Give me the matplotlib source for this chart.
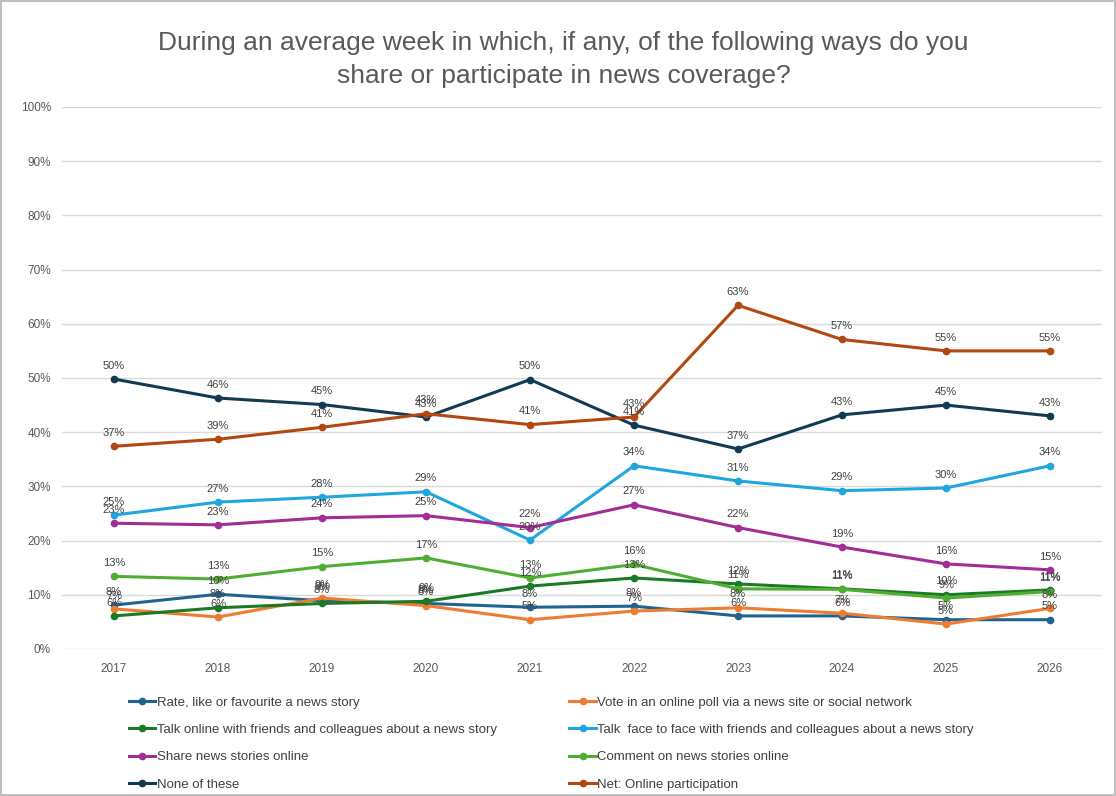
import matplotlib.pyplot as plt
from matplotlib.ticker import FuncFormatter, MultipleLocator

years = [2017, 2018, 2019, 2020, 2021, 2022, 2023, 2024, 2025, 2026]

rate_like = [8.1, 10.1, 8.9, 8.4, 7.7, 7.9, 6.1, 6.1, 5.4, 5.4]
vote_poll = [7.4, 5.9, 9.4, 8.0, 5.4, 7.0, 7.6, 6.6, 4.6, 7.5]
talk_online = [6.1, 7.6, 8.4, 8.8, 11.6, 13.1, 12.0, 11.1, 10.0, 10.9]
talk_face = [24.7, 27.1, 28.0, 29.0, 20.1, 33.8, 31.0, 29.2, 29.7, 33.8]
share_online = [23.2, 22.9, 24.2, 24.6, 22.4, 26.6, 22.4, 18.8, 15.7, 14.6]
comment_online = [13.4, 12.9, 15.2, 16.8, 13.1, 15.6, 11.1, 11.0, 9.4, 10.6]
none_of_these = [49.8, 46.3, 45.1, 42.8, 49.7, 41.3, 36.9, 43.2, 45.0, 43.0]
net_online = [37.4, 38.7, 40.9, 43.4, 41.4, 42.8, 63.4, 57.1, 55.0, 55.0]

series = [
    ("Rate, like or favourite a news story", rate_like, "#1f6491"),
    ("Vote in an online poll via a news site or social network", vote_poll, "#ee7d31"),
    ("Talk online with friends and colleagues about a news story", talk_online, "#1b7a25"),
    ("Talk  face to face with friends and colleagues about a news story", talk_face, "#1fa6df"),
    ("Share news stories online", share_online, "#a12d96"),
    ("Comment on news stories online", comment_online, "#4fae31"),
    ("None of these", none_of_these, "#103b52"),
    ("Net: Online participation", net_online, "#b2480f"),
]

plt.rcParams['font.family'] = ['Liberation Sans', 'DejaVu Sans']

fig = plt.figure(figsize=(11.16, 7.96), dpi=100)
fig.patch.set_edgecolor("#bfbfbf")
fig.patch.set_linewidth(1.5)
ax = fig.add_axes([0.0556, 0.1847, 0.9319, 0.6809])

lines = []
for name, vals, color in series:
    ln, = ax.plot(years, vals, color=color, lw=2.2, marker="o", ms=4.5, label=name, zorder=3)
    lines.append(ln)
    for x, v in zip(years, vals):
        ax.annotate(f"{round(v)}%", (x, v), textcoords="offset points", xytext=(0, 6),
                    ha="center", va="bottom", fontsize=8, color="#404040", zorder=4)

ax.set_xlim(2016.5, 2026.5)
ax.set_ylim(0, 100)
ax.yaxis.set_major_locator(MultipleLocator(10))
ax.yaxis.set_major_formatter(FuncFormatter(lambda v, _: f"{v:.0f}%"))
ax.set_xticks(years)
ax.grid(axis="y", color="#d9d9d9", lw=1)
ax.set_axisbelow(True)
for s in ax.spines.values():
    s.set_visible(False)
ax.tick_params(length=0, labelsize=8.5, colors="#595959", pad=10)
ax.tick_params(axis="y", pad=8)

fig.text(0.505, 0.89, "During an average week in which, if any, of the following ways do you\nshare or participate in news coverage?",
         ha="center", va="bottom", fontsize=19, color="#595959", linespacing=1.45)

# legend reads across rows, so hand the entries over column by column
order = [0, 2, 4, 6, 1, 3, 5, 7]
fig.legend([lines[i] for i in order], [series[i][0] for i in order],
           loc="upper left", bbox_to_anchor=(0.105, 0.14), ncol=2, frameon=False,
           fontsize=9.5, labelcolor="#404040", handlelength=2.0, handletextpad=0.1,
           columnspacing=5.5, labelspacing=1.15)

fig.savefig("out.png", dpi=100)
